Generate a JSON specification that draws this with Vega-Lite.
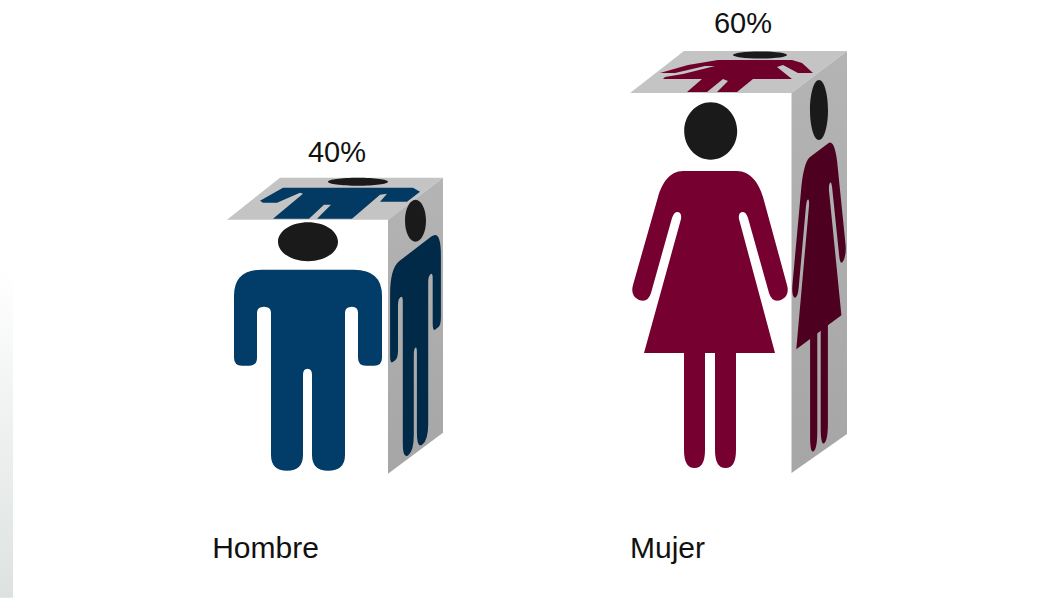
{
"$schema":"https://vega.github.io/schema/vega-lite/v6.json",
"width":1045,"height":598,"padding":0,"autosize":"none","background":"#ffffff",
"config":{"view":{"stroke":null},"font":"Liberation Sans"},
"data":{"values":[{"genero":"Hombre","porcentaje":0.4},{"genero":"Mujer","porcentaje":0.6}]},
"encoding":{
"x":{"field":"genero","type":"nominal","scale":{"type":"point","domain":["Hombre","Mujer"],"range":[308,710],"padding":0},
"axis":{"title":null,"domain":false,"ticks":false,"grid":false,"labelAngle":0,"labelFontSize":30,"labelColor":"#111111","labelFont":"Liberation Sans","labelBaseline":"middle","labelAlign":"center","labelOffset":-43,"labelPadding":0,"offset":-50}},
"y":{"field":"porcentaje","type":"quantitative","scale":{"domain":[-0.1974,0.7468],"nice":false,"zero":false},"axis":null}
},
"layer":[
{"transform":[{"filter":"datum.genero==='Hombre'"}],
 "mark":{"type":"point","filled":true,"size":4,"opacity":1,"strokeWidth":0,"color":{"x1":0,"y1":0,"x2":0,"y2":1,"gradient":"linear","stops":[{"offset":0,"color":"#ffffff"},{"offset":1,"color":"#dde2e0"}]}},
 "encoding":{"shape":{"field":"genero","legend":null,"scale":{"domain":["Hombre"],"range":["M-308 50 H-295 V378 H-308 Z"]}}}},
{"mark":{"type":"point","filled":true,"size":4,"opacity":1,"strokeWidth":0,"color":"#c4c4c4"},
 "encoding":{"shape":{"field":"genero","legend":null,"scale":{"domain":["Hombre","Mujer"],"range":["M-81 0 L80 0 L135 -42 L-28 -42 Z","M-80 0 L81.5 0 L137 -42 L-26 -42 Z"]}}}},
{"mark":{"type":"point","filled":true,"size":4,"opacity":1,"strokeWidth":0,"color":{"x1":0,"y1":0,"x2":0,"y2":1,"gradient":"linear","stops":[{"offset":0,"color":"#b4b4b4"},{"offset":1,"color":"#a6a6a6"}]}},
 "encoding":{"shape":{"field":"genero","legend":null,"scale":{"domain":["Hombre","Mujer"],"range":["M80 0 L135 -42 L135 213 L80 254 Z","M81.5 0 L137 -42 L137 341 L81.5 380 Z"]}}}},
{"mark":{"type":"point","filled":true,"size":4,"opacity":1,"strokeWidth":0},
 "encoding":{"fill":{"field":"genero","legend":null,"scale":{"domain":["Hombre","Mujer"],"range":["#023a63","#6e0029"]}},
 "shape":{"field":"genero","legend":null,"scale":{"domain":["Hombre","Mujer"],"range":[
 "M-25 -32 L-48 -19 L-45 -17 L-31 -17 L-8 -27 L-5 -26 L-35 -1 L1 -1 L16 -15 L23 -15 L9 -1 L44 -1 L72 -25 L79 -26 L72 -18 L99 -18 L112 -28 L105 -32 Z",
 "M-50 -20 L-22 -28 L8 -33 H82 L92 -30 L103 -20 H88 L73 -28 L67 -26 L82 -14 H43 L27 -1 H7 L18 -12 L13 -14 L-3 -1 H-23 L-8 -14 H-47 L-45 -16 L-27 -19 L5 -27 L-5 -27 L-35 -20 Z"]}}}},
{"mark":{"type":"point","filled":true,"size":4,"opacity":1,"strokeWidth":0},
 "encoding":{"fill":{"field":"genero","legend":null,"scale":{"domain":["Hombre","Mujer"],"range":["#012a48","#4d001f"]}},
 "shape":{"field":"genero","legend":null,"scale":{"domain":["Hombre","Mujer"],"range":[
 "M82.1 74.4 Q82.1 48.4 91.7 41.1 L123.3 16.9 Q132.9 9.6 132.9 35.6 L132.9 97.6 Q132.9 105.6 130.2 107.7 L127.4 109.8 Q124.7 111.9 124.7 103.9 L124.7 58.9 Q124.7 52.9 122.6 54.5 Q120.2 56.3 120.2 62.3 L120.2 204.3 Q120.2 220.3 114.4 224.8 Q108.9 229 108.9 213 L108.9 133 Q108.9 127 107.3 128.1 Q105.8 129.3 105.8 135.3 L105.8 215.3 Q105.8 231.3 100.3 235.5 Q94.8 239.7 94.8 223.7 L94.8 81.7 Q94.8 75.7 92.4 77.6 Q90 79.4 90 85.4 L90 130.4 Q90 138.4 87.2 140.5 L84.8 142.3 Q82.1 144.4 82.1 136.4 Z",
 "M99.7 64.2 L118.3 50.2 C122.8 46.8 125.9 56.5 127.2 69.4 L135.5 151.2 Q136.5 161.4 133.4 167.7 Q130.3 173.1 129.3 163.9 L122.1 94.3 Q121.4 88.8 120.4 89.6 Q118.6 90.9 119 97.7 L131.4 222.3 L117.9 232.4 L117.9 329.4 Q117.9 347.4 114.3 350.2 Q110.7 352.9 110.7 334.9 L110.7 237.9 L107.3 240.5 L107.3 337.5 Q107.3 355.5 103.7 358.2 Q100.1 361 100.1 343 L100.1 246 L86.3 256.4 L99 112.7 Q99.4 105.5 97.6 106.8 Q96.6 107.6 95.9 114.1 L88.7 194.5 Q87.7 205.3 84.6 204.7 Q81.5 203 82.5 191.2 L91.1 96.7 C92.5 81.7 95.2 67.6 99.7 64.2 Z"]}}}},
{"mark":{"type":"point","filled":true,"size":4,"opacity":1,"strokeWidth":0},
 "encoding":{"fill":{"field":"genero","legend":null,"scale":{"domain":["Hombre","Mujer"],"range":["#023c68","#76002f"]}},
 "shape":{"field":"genero","legend":null,"scale":{"domain":["Hombre","Mujer"],"range":[
 "M-74 76 Q-74 50 -46 50 H46 Q74 50 74 76 V138 Q74 146 66 146 H58 Q50 146 50 138 V93 Q50 87 44 87 Q37 87 37 93 V235 Q37 251 20 251 Q4 251 4 235 V155 Q4 149 -0.5 149 Q-5 149 -5 155 V235 Q-5 251 -21 251 Q-37 251 -37 235 V93 Q-37 87 -44 87 Q-51 87 -51 93 V138 Q-51 146 -59 146 H-66 Q-74 146 -74 138 Z",
 "M-27 78 H27 C40 78 49 90 53 104 L77 192 Q80 203 71 207 Q62 210 59 200 L38 125 Q36 119 33 119 Q28 119 29 126 L65 260 H26 V357 Q26 375 15.5 375 Q5 375 5 357 V260 H-5 V357 Q-5 375 -15.5 375 Q-26 375 -26 357 V260 H-66 L-29 126 Q-28 119 -33 119 Q-36 119 -38 125 L-59 200 Q-62 210 -71 207 Q-80 203 -77 192 L-52 104 C-48 90 -40 78 -27 78 Z"]}}}},
{"mark":{"type":"point","filled":true,"size":4,"opacity":1,"strokeWidth":0,"color":"#1a1a1a"},
 "encoding":{"shape":{"field":"genero","legend":null,"scale":{"domain":["Hombre","Mujer"],"range":[
 "M-30 22 A30 19.5 0 1 0 30 22 A30 19.5 0 1 0 -30 22 Z M97 1 A10.5 21 0 1 0 118 1 A10.5 21 0 1 0 97 1 Z M20 -38 A30 4 0 1 0 80 -38 A30 4 0 1 0 20 -38 Z",
 "M-25.8 38 A26.5 28.7 0 1 0 27.2 38 A26.5 28.7 0 1 0 -25.8 38 Z M100 17 A9 30 0 1 0 118 17 A9 30 0 1 0 100 17 Z M23 -38 A27 3.5 0 1 0 77 -38 A27 3.5 0 1 0 23 -38 Z"]}}}},
{"transform":[{"filter":"datum.genero==='Hombre'"}],
 "mark":{"type":"text","font":"Liberation Sans","fontSize":29,"color":"#111111","baseline":"middle","align":"center","dx":29,"dy":-67},
 "encoding":{"text":{"field":"porcentaje","type":"quantitative","format":".0%"}}},
{"transform":[{"filter":"datum.genero==='Mujer'"}],
 "mark":{"type":"text","font":"Liberation Sans","fontSize":29,"color":"#111111","baseline":"middle","align":"center","dx":33,"dy":-69},
 "encoding":{"text":{"field":"porcentaje","type":"quantitative","format":".0%"}}}
],
"resolve":{"scale":{"shape":"independent","fill":"independent"}}
}
